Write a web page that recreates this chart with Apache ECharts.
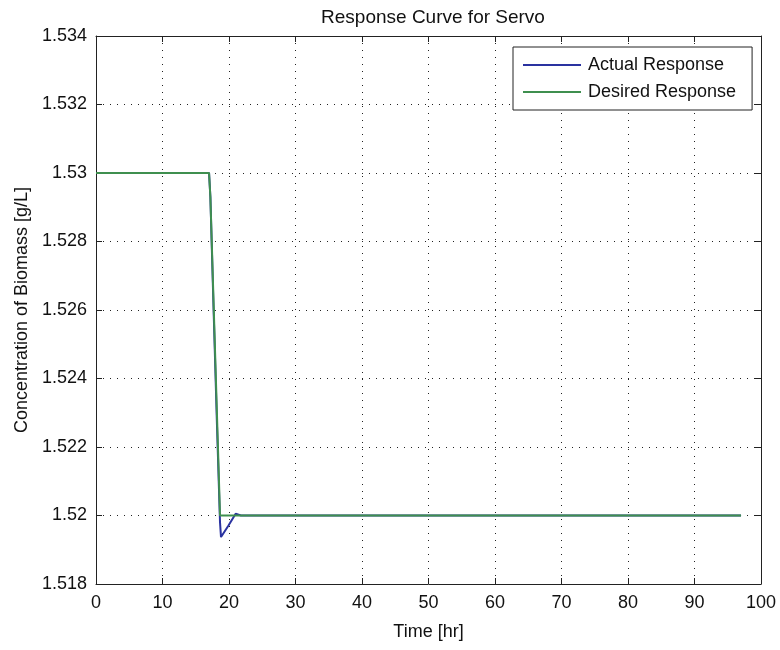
<!DOCTYPE html>
<html>
<head>
<meta charset="utf-8">
<script src="https://cdn.jsdelivr.net/npm/echarts@6/dist/echarts.min.js"></script>
<style>html,body{margin:0;padding:0;background:#fff}#c{width:780px;height:650px}</style>
</head>
<body>
<div id="c"></div>
<script>
const titleText = 'Response Curve for Servo';
const seriesNames = ['Actual Response', 'Desired Response'];
const actualTime  = [0, 17.0, 17.2, 17.7, 18.2, 18.65, 18.8, 19.9, 21.0, 21.8, 97];
const actualValue = [1.53, 1.53, 1.5293, 1.5259, 1.5226, 1.5198, 1.51937, 1.5197, 1.52005, 1.52, 1.52];
const desiredTime  = [0, 17.0, 17.2, 18.65, 97];
const desiredValue = [1.53, 1.53, 1.5293, 1.52, 1.52];
const xTicks = [0, 10, 20, 30, 40, 50, 60, 70, 80, 90, 100];
const yTicks = [1.518, 1.52, 1.522, 1.524, 1.526, 1.528, 1.53, 1.532, 1.534];

const FONT = '"Liberation Sans", Arial, sans-serif';
const gridLine = {show: true, lineStyle: {color: '#222', width: 1, type: [1, 6]}};
const axLine = {show: true, onZero: false, lineStyle: {color: '#222', width: 1}};
const tick = {show: true, inside: true, length: 6, lineStyle: {color: '#222'}};

const xBase = {type: 'value', min: xTicks[0], max: xTicks[xTicks.length - 1], interval: xTicks[1] - xTicks[0]};
const yBase = {type: 'value', min: yTicks[0], max: yTicks[yTicks.length - 1], interval: 0.002};

const chart = echarts.init(document.getElementById('c'));
chart.setOption({
  animation: false,
  backgroundColor: '#fff',
  title: {
    text: titleText, left: 428, top: 3, textAlign: 'center',
    textStyle: {fontFamily: FONT, fontSize: 19, fontWeight: 'normal', color: '#111'}
  },
  legend: {
    data: seriesNames.map(n => ({name: n, icon: 'rect'})),
    orient: 'vertical', left: 513, top: 47,
    backgroundColor: '#fff', borderColor: '#222', borderWidth: 1,
    padding: [9, 16, 9, 10], itemGap: 9, itemWidth: 58, itemHeight: 2,
    textStyle: {fontFamily: FONT, fontSize: 18, color: '#111', lineHeight: 18, padding: [0, 0, 0, 2]}
  },
  grid: {left: 96, right: 19, top: 36, bottom: 66},
  xAxis: [
    Object.assign({}, xBase, {
      position: 'bottom', name: 'Time [hr]', nameLocation: 'middle', nameGap: 39,
      nameTextStyle: {fontFamily: FONT, fontSize: 18, color: '#111'},
      axisLine: axLine, axisTick: tick, splitLine: gridLine,
      axisLabel: {fontFamily: FONT, fontSize: 18, color: '#111', margin: 10}
    }),
    Object.assign({}, xBase, {
      position: 'top', axisLine: axLine, axisTick: tick, splitLine: {show: false},
      axisLabel: {show: false}
    })
  ],
  yAxis: [
    Object.assign({}, yBase, {
      position: 'left', name: 'Concentration of Biomass [g/L]', nameLocation: 'middle', nameGap: 62,
      nameTextStyle: {fontFamily: FONT, fontSize: 18, color: '#111'},
      axisLine: axLine, axisTick: tick, splitLine: gridLine,
      axisLabel: {fontFamily: FONT, fontSize: 18, color: '#111', margin: 9,
        formatter: v => String(Number(v.toFixed(3)))}
    }),
    Object.assign({}, yBase, {
      position: 'right', axisLine: axLine, axisTick: tick, splitLine: {show: false},
      axisLabel: {show: false}
    })
  ],
  series: [
    {
      name: seriesNames[0], type: 'line', xAxisIndex: 0, yAxisIndex: 0,
      data: actualTime.map((t, i) => [t, actualValue[i]]),
      showSymbol: false, symbol: 'none', color: '#2a32a0',
      lineStyle: {width: 2, color: '#2a32a0'}
    },
    {
      name: seriesNames[1], type: 'line', xAxisIndex: 0, yAxisIndex: 0,
      data: desiredTime.map((t, i) => [t, desiredValue[i]]),
      showSymbol: false, symbol: 'none', color: '#3f8f4f',
      lineStyle: {width: 2, color: '#3f8f4f'}
    }
  ]
});
</script>
</body>
</html>
